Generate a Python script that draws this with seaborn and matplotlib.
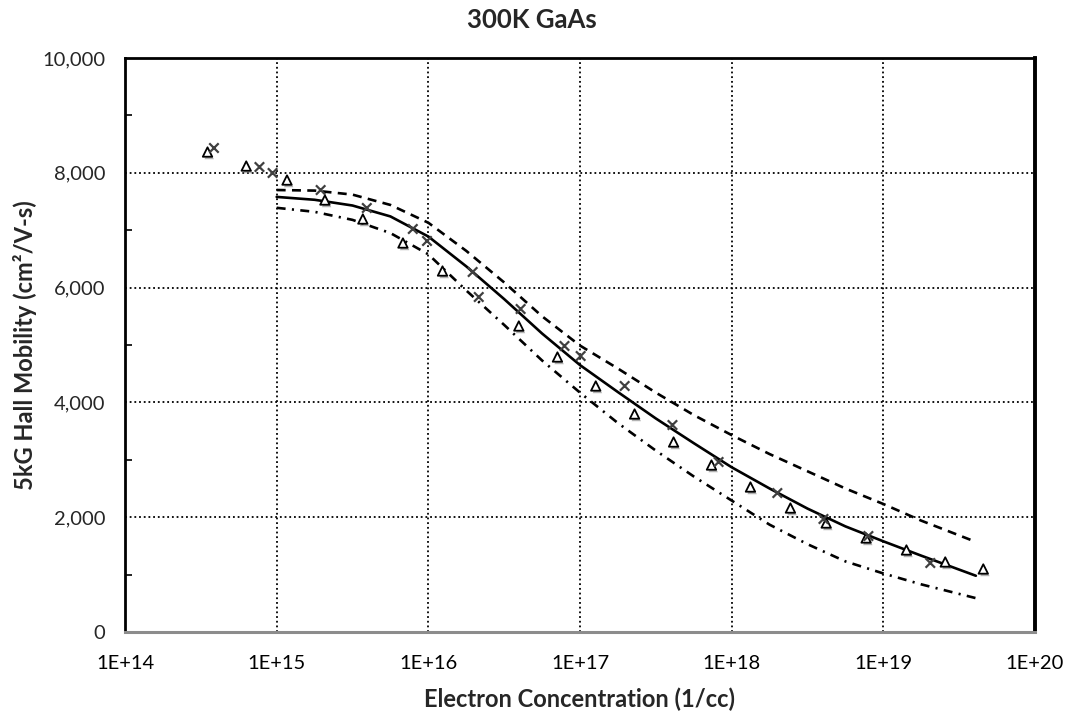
import numpy as np
import pandas as pd
import matplotlib
matplotlib.use("Agg")
import matplotlib.pyplot as plt
import matplotlib.patheffects as pe
from matplotlib.ticker import FuncFormatter, LogLocator, MultipleLocator, FixedLocator
import seaborn as sns

# ---------------- data ----------------
tri_conc = [3.5e14, 6.3e14, 1.17e15, 2.08e15, 3.7e15, 6.8e15, 1.24e16, 3.95e16,
            7.1e16, 1.27e17, 2.29e17, 4.14e17, 7.36e17, 1.33e18, 2.44e18, 4.2e18,
            7.7e18, 1.42e19, 2.56e19, 4.56e19]
tri_mob = [8362, 8118, 7874, 7526, 7195, 6777, 6289, 5331, 4791, 4286, 3798, 3310,
           2909, 2526, 2160, 1899, 1638, 1429, 1220, 1098]

x_conc = [3.86e14, 7.7e14, 9.4e14, 1.95e15, 3.93e15, 7.9e15, 9.8e15, 1.96e16, 2.15e16,
          4.06e16, 7.9e16, 1.01e17, 1.97e17, 4.07e17, 8.2e17, 2.0e18, 4.03e18, 7.97e18,
          2.04e19]
x_mob = [8432, 8101, 7997, 7700, 7387, 7021, 6812, 6272, 5836, 5627, 4983, 4808, 4286,
         3606, 2962, 2421, 1969, 1672, 1202]

fit_logn = [15.00, 15.25, 15.50, 15.75, 16.00, 16.25, 16.50, 16.75, 17.00, 17.25, 17.50,
            17.75, 18.00, 18.25, 18.50, 18.75, 19.00, 19.25, 19.61]
fit_mob = [7580, 7530, 7430, 7240, 6890, 6370, 5800, 5200, 4650, 4180, 3720, 3290, 2870,
           2500, 2150, 1840, 1580, 1330, 980]

upper_logn = [15.00, 15.25, 15.50, 15.75, 16.00, 16.25, 16.50, 16.75, 17.00, 17.25, 17.50,
              17.75, 18.00, 18.25, 18.50, 18.75, 19.00, 19.25, 19.61]
upper_mob = [7700, 7690, 7620, 7440, 7130, 6640, 6090, 5500, 4990, 4590, 4170, 3780, 3430,
             3100, 2800, 2500, 2230, 1940, 1570]

lower_logn = [15.00, 15.25, 15.50, 15.75, 16.00, 16.25, 16.50, 16.75, 17.00, 17.25, 17.50,
              17.75, 18.00, 18.25, 18.50, 18.75, 19.00, 19.25, 19.61]
lower_mob = [7390, 7320, 7180, 6950, 6580, 5950, 5350, 4730, 4170, 3640, 3160, 2710, 2290,
             1870, 1530, 1230, 1020, 830, 590]

x_tick_vals = [1e14, 1e15, 1e16, 1e17, 1e18, 1e19, 1e20]
y_tick_vals = [0, 2000, 4000, 6000, 8000, 10000]

title = "300K GaAs"
xlabel = "Electron Concentration (1/cc)"
ylabel = "5kG Hall Mobility (cm²/V-s)"

# ---------------- figure ----------------
sns.set_theme(style="white")
plt.rcParams["font.family"] = ["Lato", "DejaVu Sans"]

fig = plt.figure(figsize=(10.69, 7.15), dpi=100)
ax = fig.add_axes([125 / 1069, 1 - 632 / 715, (1035 - 125) / 1069, (632 - 58) / 715])

fit_df = pd.DataFrame({"n": [10 ** v for v in fit_logn], "mu": fit_mob})
up_df = pd.DataFrame({"n": [10 ** v for v in upper_logn], "mu": upper_mob})
lo_df = pd.DataFrame({"n": [10 ** v for v in lower_logn], "mu": lower_mob})

sns.lineplot(data=fit_df, x="n", y="mu", ax=ax, color="black", lw=1.9,
             estimator=None, sort=False, zorder=4)
sns.lineplot(data=up_df, x="n", y="mu", ax=ax, color="black", lw=1.9,
             linestyle=(0, (3.4, 2.4)), estimator=None, sort=False, zorder=4)
sns.lineplot(data=lo_df, x="n", y="mu", ax=ax, color="black", lw=1.9,
             linestyle=(0, (3.4, 2.4, 0.8, 2.4)), estimator=None, sort=False, zorder=4)
for ln in ax.lines:
    ln.set_solid_joinstyle("round")
    ln.set_dash_joinstyle("round")

shadow = [pe.SimplePatchShadow(offset=(1.2, -1.8), shadow_rgbFace="0.45", alpha=0.55),
          pe.Normal()]

tri_df = pd.DataFrame({"n": tri_conc, "mu": tri_mob})
x_df = pd.DataFrame({"n": x_conc, "mu": x_mob})
sns.scatterplot(data=tri_df, x="n", y="mu", ax=ax, marker="^", s=46,
                facecolor="white", edgecolor="black", linewidth=1.3, zorder=5)
ax.collections[-1].set_path_effects(shadow)
sns.scatterplot(data=x_df, x="n", y="mu", ax=ax, marker="x", s=46,
                color="0.25", linewidth=1.6, zorder=5)
ax.collections[-1].set_path_effects(shadow)

ax.set_xscale("log")
ax.set_xlim(1e14, 1e20)
ax.set_ylim(0, 10000)

ax.xaxis.set_major_locator(FixedLocator(x_tick_vals))
ax.xaxis.set_minor_locator(LogLocator(base=10, subs=np.arange(2, 10)))
ax.xaxis.set_major_formatter(FuncFormatter(lambda v, p: "1E+%d" % round(np.log10(v))))
ax.xaxis.set_minor_formatter(FuncFormatter(lambda v, p: ""))
ax.yaxis.set_major_locator(FixedLocator(y_tick_vals))
ax.yaxis.set_minor_locator(MultipleLocator(1000))
ax.yaxis.set_major_formatter(FuncFormatter(lambda v, p: "{:,.0f}".format(v)))

ax.grid(True, which="major", color="black", linestyle=(0, (1, 1.6)), linewidth=1.3)
ax.set_axisbelow(True)

for side in ["top", "left"]:
    ax.spines[side].set_color("black")
    ax.spines[side].set_linewidth(2.0)
ax.spines["right"].set_color("black")
ax.spines["right"].set_linewidth(2.8)
ax.spines["bottom"].set_color("#8c8c8c")
ax.spines["bottom"].set_linewidth(2.2)

ax.tick_params(axis="x", which="major", direction="inout", length=9, width=2,
               color="#8c8c8c", labelsize=14.5, pad=12, labelcolor="black")
ax.tick_params(axis="x", which="minor", direction="in", length=5, width=1.5,
               color="#8c8c8c")
ax.tick_params(axis="y", which="both", direction="in", length=5, width=1.2,
               color="black", left=True, labelsize=14.5, pad=14)
ax.tick_params(axis="y", which="major", length=0)

ax.set_xlabel(xlabel, fontsize=17, fontweight="bold", labelpad=11)
ax.set_ylabel(ylabel, fontsize=17, fontweight="bold", labelpad=4)
fig.text(532 / 1069, 1 - 20 / 715, title, ha="center", va="center",
         fontsize=18.5, fontweight="bold")

fig.savefig("out.png", dpi=100)
